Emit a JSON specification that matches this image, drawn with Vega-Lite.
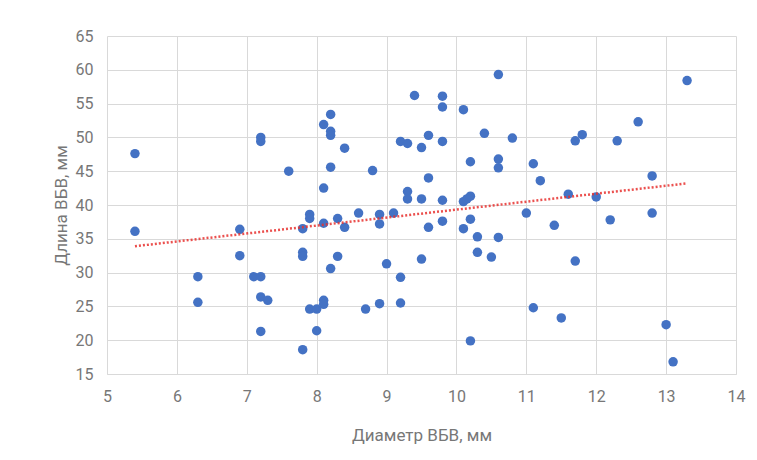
{
  "$schema": "https://vega.github.io/schema/vega-lite/v6.json",
  "autosize": {"type": "none"},
  "width": 629,
  "height": 338,
  "padding": {"left": 107, "top": 36, "right": 21, "bottom": 86},
  "background": "white",
  "config": {
    "view": {"stroke": null},
    "font": "Roboto",
    "axis": {
      "gridColor": "#d9d9d9",
      "gridWidth": 1,
      "labelColor": "#777777",
      "titleColor": "#777777",
      "labelFont": "Roboto",
      "titleFont": "Roboto",
      "labelFontSize": 16,
      "titleFontSize": 17,
      "titleFontWeight": "normal",
      "ticks": false,
      "labelOverlap": false,
      "labelFlush": false,
      "labelBound": false
    }
  },
  "datasets": {
    "points": [
      {"d": 5.4, "l": 47.6}, {"d": 5.4, "l": 36.1}, {"d": 6.3, "l": 29.4}, {"d": 6.3, "l": 25.6},
      {"d": 6.9, "l": 36.4}, {"d": 6.9, "l": 32.5}, {"d": 7.1, "l": 29.4}, {"d": 7.2, "l": 29.4},
      {"d": 7.2, "l": 50.0}, {"d": 7.2, "l": 49.4}, {"d": 7.2, "l": 26.4}, {"d": 7.3, "l": 25.9},
      {"d": 7.2, "l": 21.3}, {"d": 7.6, "l": 45.0}, {"d": 7.8, "l": 36.5}, {"d": 7.8, "l": 33.0},
      {"d": 7.8, "l": 32.4}, {"d": 7.8, "l": 18.6}, {"d": 7.9, "l": 38.6}, {"d": 7.9, "l": 38.0},
      {"d": 7.9, "l": 24.6}, {"d": 8.0, "l": 24.6}, {"d": 8.0, "l": 21.4}, {"d": 8.1, "l": 51.9},
      {"d": 8.1, "l": 42.5}, {"d": 8.1, "l": 37.3}, {"d": 8.1, "l": 25.9}, {"d": 8.1, "l": 25.3},
      {"d": 8.2, "l": 53.4}, {"d": 8.2, "l": 50.9}, {"d": 8.2, "l": 50.3}, {"d": 8.2, "l": 45.6},
      {"d": 8.2, "l": 30.6}, {"d": 8.3, "l": 38.0}, {"d": 8.3, "l": 32.4}, {"d": 8.4, "l": 48.4},
      {"d": 8.4, "l": 36.7}, {"d": 8.6, "l": 38.8}, {"d": 8.7, "l": 24.6}, {"d": 8.8, "l": 45.1},
      {"d": 8.9, "l": 38.6}, {"d": 8.9, "l": 37.2}, {"d": 8.9, "l": 25.4}, {"d": 9.0, "l": 31.3},
      {"d": 9.1, "l": 38.8}, {"d": 9.2, "l": 49.4}, {"d": 9.2, "l": 29.3}, {"d": 9.2, "l": 25.5},
      {"d": 9.3, "l": 49.1}, {"d": 9.3, "l": 42.0}, {"d": 9.3, "l": 40.9}, {"d": 9.4, "l": 56.2},
      {"d": 9.5, "l": 48.5}, {"d": 9.5, "l": 40.9}, {"d": 9.5, "l": 32.0}, {"d": 9.6, "l": 50.3},
      {"d": 9.6, "l": 44.0}, {"d": 9.6, "l": 36.7}, {"d": 9.8, "l": 56.1}, {"d": 9.8, "l": 54.5},
      {"d": 9.8, "l": 49.4}, {"d": 9.8, "l": 40.7}, {"d": 9.8, "l": 37.6}, {"d": 10.1, "l": 54.1},
      {"d": 10.1, "l": 40.5}, {"d": 10.1, "l": 36.5}, {"d": 10.15, "l": 40.9}, {"d": 10.2, "l": 46.4},
      {"d": 10.2, "l": 41.3}, {"d": 10.2, "l": 37.9}, {"d": 10.2, "l": 19.9}, {"d": 10.3, "l": 35.3},
      {"d": 10.3, "l": 33.0}, {"d": 10.4, "l": 50.6}, {"d": 10.5, "l": 32.3}, {"d": 10.6, "l": 59.3},
      {"d": 10.6, "l": 46.8}, {"d": 10.6, "l": 45.5}, {"d": 10.6, "l": 35.2}, {"d": 10.8, "l": 49.9},
      {"d": 11.0, "l": 38.8}, {"d": 11.1, "l": 46.1}, {"d": 11.1, "l": 24.8}, {"d": 11.2, "l": 43.6},
      {"d": 11.4, "l": 37.0}, {"d": 11.5, "l": 23.3}, {"d": 11.6, "l": 41.6}, {"d": 11.7, "l": 49.5},
      {"d": 11.7, "l": 31.7}, {"d": 11.8, "l": 50.4}, {"d": 12.0, "l": 41.2}, {"d": 12.2, "l": 37.8},
      {"d": 12.3, "l": 49.5}, {"d": 12.6, "l": 52.3}, {"d": 12.8, "l": 44.3}, {"d": 12.8, "l": 38.8},
      {"d": 13.0, "l": 22.3}, {"d": 13.1, "l": 16.8}, {"d": 13.3, "l": 58.4}
    ],
    "trend": [
      {"d": 5.4, "l": 33.9},
      {"d": 13.3, "l": 43.2}
    ]
  },
  "layer": [
    {
      "data": {"name": "points"},
      "mark": {"type": "circle", "size": 90, "color": "#4472C4", "opacity": 1},
      "encoding": {
        "x": {
          "field": "d", "type": "quantitative",
          "scale": {"domain": [5, 14], "nice": false, "zero": false},
          "axis": {
            "title": "Диаметр ВБВ, мм",
            "values": [5, 6, 7, 8, 9, 10, 11, 12, 13, 14],
            "tickCount": 12,
            "format": "d",
            "labelPadding": 14,
            "titlePadding": 23,
            "domain": true,
            "domainColor": "#d9d9d9"
          }
        },
        "y": {
          "field": "l", "type": "quantitative",
          "scale": {"domain": [15, 65], "nice": false, "zero": false},
          "axis": {
            "title": "Длина ВБВ, мм",
            "values": [15, 20, 25, 30, 35, 40, 45, 50, 55, 60, 65],
            "tickCount": 12,
            "format": "d",
            "labelPadding": 14,
            "titlePadding": 5,
            "domain": false
          }
        }
      }
    },
    {
      "data": {"name": "trend"},
      "mark": {"type": "line", "color": "#e8312f", "strokeWidth": 2.5, "strokeDash": [2, 2], "opacity": 0.85},
      "encoding": {
        "x": {"field": "d", "type": "quantitative"},
        "y": {"field": "l", "type": "quantitative"}
      }
    }
  ]
}
